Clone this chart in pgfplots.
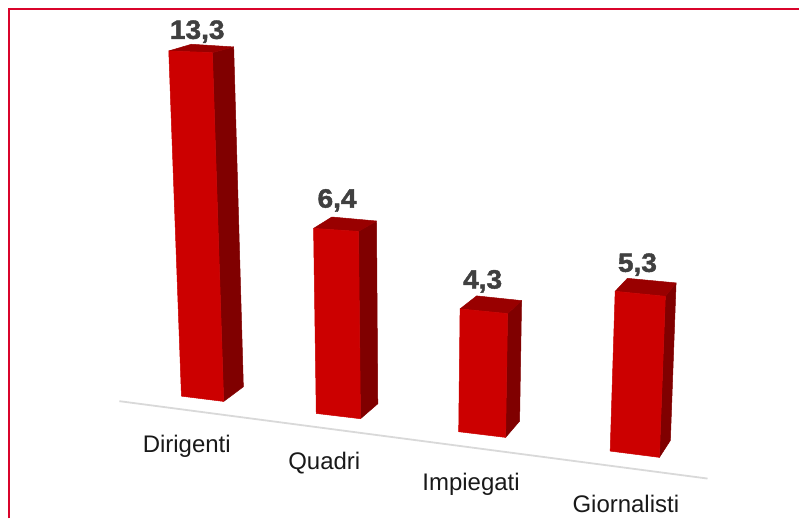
\documentclass[border=0pt]{standalone}
\usepackage{pgfplots}
\usepackage{fontspec}
\setmainfont{Liberation Sans}
\newfontface\heavyface[FakeBold=1.6]{Liberation Sans Bold}
\pgfplotsset{compat=1.18}
\definecolor{frontface}{HTML}{CC0000}
\definecolor{sideface}{HTML}{800000}
\definecolor{topface}{HTML}{990000}
\definecolor{framered}{HTML}{D9042B}
\definecolor{axisgrey}{HTML}{D9D9D9}
\definecolor{valuegrey}{HTML}{404040}
\pgfplotsset{
  front/.style={fill=frontface,draw=frontface,line width=0.5bp,line join=round,mark=none,forget plot},
  side/.style={fill=sideface,draw=sideface,line width=0.5bp,line join=round,mark=none,forget plot},
  cap/.style={fill=topface,draw=topface,line width=0.5bp,line join=round,mark=none,forget plot},
}
\newcommand{\valuelabel}[3]{\node[text=valuegrey,font=\fontsize{26.5bp}{29bp}\heavyface,xscale=1.06,anchor=center] at (axis cs:#1,#2) {#3};}
\newcommand{\catlabel}[3]{\node[text=black!90,font=\fontsize{24bp}{26bp}\selectfont,anchor=base] at (axis cs:#1,#2) {#3};}
\begin{document}
\begin{tikzpicture}
\begin{axis}[
  scale only axis, width=800bp, height=519bp,
  xmin=0, xmax=800, ymin=0, ymax=519, y dir=reverse,
  hide axis, clip=false,
]
% keeps the page at the full size of the plotting area
\path (axis cs:0,0) (axis cs:800,519);
\addplot[draw=none,mark=none,forget plot] coordinates {(0,0) (800,519)};
% outer frame, open on the right and at the bottom
\addplot[framered,line width=2.2bp,mark=none,forget plot] coordinates {(9,519) (9,9) (800,9)};
% category baseline in perspective
\addplot[axisgrey,line width=1.8bp,mark=none,forget plot] coordinates {(119.5,401.7) (708.5,479.2)};

% Dirigenti
\addplot[side] coordinates {(212.7,52.7) (234,47) (243.7,387.3) (224,402)} --cycle;
\addplot[cap] coordinates {(169,51) (191.7,44.3) (234,47) (212.7,52.7)} --cycle;
\addplot[front] coordinates {(169,51) (212.7,52.7) (224,402) (181.7,396.7)} --cycle;
% Quadri
\addplot[side] coordinates {(359,231.7) (377,221.3) (378.3,404.3) (361,419.3)} --cycle;
\addplot[cap] coordinates {(314,228.7) (332.3,217.3) (377,221.3) (359,231.7)} --cycle;
\addplot[front] coordinates {(314,228.7) (359,231.7) (361,419.3) (316.7,414)} --cycle;
% Impiegati
\addplot[side] coordinates {(508.3,314) (522.3,301) (520.3,421.7) (506.3,438)} --cycle;
\addplot[cap] coordinates {(460.7,309.3) (477.3,296.3) (522.3,301) (508.3,314)} --cycle;
\addplot[front] coordinates {(460.7,309.3) (508.3,314) (506.3,438) (459.3,432.3)} --cycle;
% Giornalisti
\addplot[side] coordinates {(666.3,296.7) (677,283.3) (671.3,441) (660.3,458)} --cycle;
\addplot[cap] coordinates {(616,291.7) (628.3,278.7) (677,283.3) (666.3,296.7)} --cycle;
\addplot[front] coordinates {(616,291.7) (666.3,296.7) (660.3,458) (611,451.7)} --cycle;

\valuelabel{197.5}{31.7}{13,3}
\valuelabel{337.5}{200.7}{6,4}
\valuelabel{483.3}{281.7}{4,3}
\valuelabel{638.3}{265}{5,3}

\catlabel{187}{452.7}{Dirigenti}
\catlabel{324.7}{470}{Quadri}
\catlabel{471.7}{490.7}{Impiegati}
\catlabel{626.7}{512.7}{Giornalisti}
\end{axis}
\end{tikzpicture}
\end{document}
